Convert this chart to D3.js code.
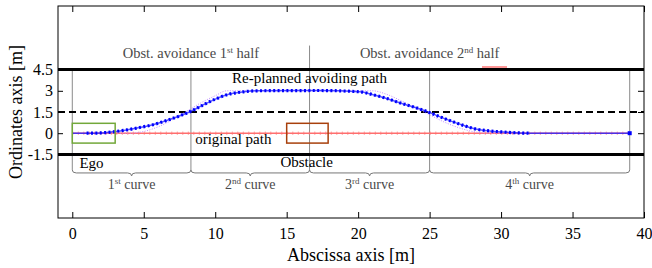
<!DOCTYPE html>
<html>
<head>
<meta charset="utf-8">
<script src="https://cdn.jsdelivr.net/npm/d3@7"></script>
<style>
  body { margin: 0; background: #fff; }
  svg, svg text { font-family: "Liberation Serif", "Times New Roman", "DejaVu Serif", serif !important; }
</style>
</head>
<body>
<div id="chart"></div>
<script>
// axis ticks
var xTicks = [0, 5, 10, 15, 20, 25, 30, 35, 40];
var yTicks = [-1.5, 0, 1.5, 3, 4.5];

// re-planned avoiding path
var pathX = [0, 1, 2, 2.85, 3.8, 4.7, 5.65, 6.6, 7.5, 8.3, 9.15, 10.1, 11, 12, 12.9, 17.3, 20.1, 21.05, 22, 22.9, 23.9, 24.9, 25.7, 26.6, 27.4, 28.3, 29.2, 30.2, 31, 32, 39];
var pathY = [0, 0, 0.02, 0.1, 0.23, 0.4, 0.6, 0.9, 1.22, 1.55, 2.0, 2.45, 2.77, 2.93, 3.0, 3.02, 2.93, 2.72, 2.46, 2.15, 1.85, 1.5, 1.17, 0.82, 0.54, 0.28, 0.16, 0.08, 0.03, 0, 0];

// faint reference trajectory (dotted violet)
var refX = [0, 4, 5, 6, 7, 8, 9, 10, 10.8, 21, 22, 23, 24, 25, 26, 27, 28, 29, 39];
var refY = [0, 0, 0.12, 0.45, 0.95, 1.55, 2.15, 2.65, 3.0, 3.0, 2.75, 2.3, 1.8, 1.3, 0.8, 0.4, 0.12, 0, 0];

// original path
var origX = [0, 39];
var origY = [0, 0];

// lane bounds
var laneBounds = [4.5, -1.5];
var laneCenter = 1.5;

// section dividers and their top ends
var sectionX = [0, 8.3, 16.6, 25, 39];
var sectionTop = [4.5, 4.5, 6.2, 4.5, 4.5];
var sectionBottom = -2.6;
var curveNum = ["1", "2", "3", "4"];
var curveSup = ["st", "nd", "rd", "th"];

// vehicles
var egoBox = [0, 3, -0.7, 0.7];
var obstacleBox = [15, 17.9, -0.7, 0.7];

var FONT = "'Liberation Serif', 'Times New Roman', 'DejaVu Serif', serif";
var W = 652, H = 268;
var margin = {left: 58, right: 8, top: 6, bottom: 50};

var svg = d3.select("#chart").append("svg")
    .attr("width", W)
    .attr("height", H)
    .attr("font-family", FONT);

var x = d3.scaleLinear().domain([-1, 40]).range([margin.left, W - margin.right]);
var y = d3.scaleLinear().domain([-6, 9]).range([H - margin.bottom, margin.top]);

var x0 = x.range()[0], x1 = x.range()[1], y0 = y.range()[0], y1 = y.range()[1];

// section divider lines
sectionX.forEach(function (s, i) {
  svg.append("line")
    .attr("x1", x(s)).attr("x2", x(s))
    .attr("y1", y(sectionTop[i])).attr("y2", y(sectionBottom))
    .attr("stroke", "#8a8a8a").attr("stroke-width", 1);
});

// braces under the lane
var by = y(sectionBottom);
for (var i = 0; i < sectionX.length - 1; i++) {
  var a = x(sectionX[i]), b = x(sectionX[i + 1]), m = (a + b) / 2, r = 4;
  var d = "M" + a + "," + by +
    " Q" + a + "," + (by + 3) + " " + (a + r) + "," + (by + 3) +
    " L" + (m - r) + "," + (by + 3) +
    " Q" + m + "," + (by + 3) + " " + m + "," + (by + 6) +
    " Q" + m + "," + (by + 3) + " " + (m + r) + "," + (by + 3) +
    " L" + (b - r) + "," + (by + 3) +
    " Q" + b + "," + (by + 3) + " " + b + "," + by;
  svg.append("path").attr("d", d).attr("fill", "none")
    .attr("stroke", "#777").attr("stroke-width", 1);

  var t = svg.append("text")
    .attr("x", m).attr("y", 189)
    .attr("text-anchor", "middle")
    .attr("fill", "#4a4a4a")
    .style("font-family", FONT)
    .style("font-size", "14px");
  t.append("tspan").text(curveNum[i]);
  t.append("tspan").text(curveSup[i]).attr("dy", -5).style("font-size", "9px");
  t.append("tspan").text(" curve").attr("dy", 5);
}

// lane lines
laneBounds.forEach(function (v) {
  svg.append("line")
    .attr("x1", x0).attr("x2", x1)
    .attr("y1", y(v)).attr("y2", y(v))
    .attr("stroke", "#000").attr("stroke-width", 3);
});
svg.append("line")
  .attr("x1", x0).attr("x2", x1)
  .attr("y1", y(laneCenter)).attr("y2", y(laneCenter))
  .attr("stroke", "#000").attr("stroke-width", 2)
  .attr("stroke-dasharray", "7,4");

var line = d3.line().x(d => x(d[0])).y(d => y(d[1]));
var smooth = d3.line().x(d => x(d[0])).y(d => y(d[1])).curve(d3.curveMonotoneX);

// original path with small tick markers
var orig = origX.map((v, i) => [v, origY[i]]);
svg.append("path").datum(orig).attr("d", line)
  .attr("fill", "none").attr("stroke", "#ff6f6f").attr("stroke-width", 1.5);
svg.append("path").datum(orig).attr("d", line)
  .attr("fill", "none").attr("stroke", "#ff6f6f").attr("stroke-width", 3.5)
  .attr("stroke-dasharray", "1,4.5").attr("opacity", 0.6);

// reference trajectory
var ref = refX.map((v, i) => [v, refY[i]]);
svg.append("path").datum(ref).attr("d", smooth)
  .attr("fill", "none").attr("stroke", "#c48cff").attr("stroke-width", 1)
  .attr("stroke-dasharray", "1,1.5");

// avoiding path
var avoid = pathX.map((v, i) => [v, pathY[i]]);
svg.append("path").datum(avoid).attr("d", smooth)
  .attr("fill", "none").attr("stroke", "#1a1aff").attr("stroke-width", 1.5)
  .attr("opacity", 0.75);
var marked = avoid.filter(p => p[0] >= 1 && p[0] <= 32);
svg.append("path").datum(marked).attr("d", smooth)
  .attr("fill", "none").attr("stroke", "#0000ff").attr("stroke-width", 3.2)
  .attr("stroke-dasharray", "2,2.4");
var last = avoid[avoid.length - 1];
svg.append("rect")
  .attr("x", x(last[0]) - 2).attr("y", y(last[1]) - 2)
  .attr("width", 4).attr("height", 4).attr("fill", "#0000ff");

// ego and obstacle boxes
svg.append("rect")
  .attr("x", x(egoBox[0])).attr("y", y(egoBox[3]))
  .attr("width", x(egoBox[1]) - x(egoBox[0]))
  .attr("height", y(egoBox[2]) - y(egoBox[3]))
  .attr("fill", "none").attr("stroke", "#72a83a").attr("stroke-width", 1.5);
svg.append("rect")
  .attr("x", x(obstacleBox[0])).attr("y", y(obstacleBox[3]))
  .attr("width", x(obstacleBox[1]) - x(obstacleBox[0]))
  .attr("height", y(obstacleBox[2]) - y(obstacleBox[3]))
  .attr("fill", "none").attr("stroke", "#a8400c").attr("stroke-width", 1.5);

// frame and axes
svg.append("rect")
  .attr("x", x0).attr("y", y1)
  .attr("width", x1 - x0).attr("height", y0 - y1)
  .attr("fill", "none").attr("stroke", "#000").attr("stroke-width", 1);

function styleAxis(g) {
  g.attr("font-family", FONT).attr("font-size", 16);
  g.select(".domain").remove();
  g.selectAll(".tick line").attr("stroke", "#000");
  g.selectAll(".tick text")
    .style("font-family", FONT)
    .style("font-size", "16px").attr("fill", "#000");
}

svg.append("g").attr("transform", "translate(0," + y0 + ")")
  .call(d3.axisBottom(x).tickValues(xTicks).tickSize(-6).tickPadding(10).tickFormat(d3.format("d")))
  .call(styleAxis);
svg.append("g").attr("transform", "translate(0," + y1 + ")")
  .call(d3.axisTop(x).tickValues(xTicks).tickSize(-6).tickFormat(""))
  .call(styleAxis);
svg.append("g").attr("transform", "translate(" + x0 + ",0)")
  .call(d3.axisLeft(y).tickValues(yTicks).tickSize(-5).tickPadding(5).tickFormat(d => d))
  .call(styleAxis);
svg.append("g").attr("transform", "translate(" + x1 + ",0)")
  .call(d3.axisRight(y).tickValues(yTicks).tickSize(-6).tickFormat(""))
  .call(styleAxis);

// axis titles
svg.append("text")
  .attr("x", (x0 + x1) / 2).attr("y", 261)
  .attr("text-anchor", "middle")
  .style("font-family", FONT)
  .style("font-size", "18px")
  .text("Abscissa axis [m]");
svg.append("text")
  .attr("transform", "translate(22," + ((y0 + y1) / 2) + ") rotate(-90)")
  .attr("text-anchor", "middle")
  .style("font-family", FONT)
  .style("font-size", "18px")
  .text("Ordinates axis [m]");

// annotations
function halfLabel(cx, num, sup) {
  var t = svg.append("text")
    .attr("x", cx).attr("y", 58)
    .attr("text-anchor", "middle")
    .attr("fill", "#4a4a4a")
    .style("font-family", FONT)
    .style("font-size", "14.5px");
  t.append("tspan").text("Obst. avoidance " + num);
  t.append("tspan").text(sup).attr("dy", -5).style("font-size", "9px");
  t.append("tspan").text(" half").attr("dy", 5);
}
halfLabel(x(8.3), "1", "st");
halfLabel(x(25), "2", "nd");
// red spell-check squiggle under "half"
svg.append("line")
  .attr("x1", 482).attr("x2", 507).attr("y1", 67).attr("y2", 67)
  .attr("stroke", "#ff3030").attr("stroke-width", 1);

function note(xv, yPx, txt, anchor) {
  svg.append("text")
    .attr("x", x(xv)).attr("y", yPx)
    .attr("text-anchor", anchor)
    .style("font-family", FONT)
    .style("font-size", "15px")
    .text(txt);
}
note(16.6, 83, "Re-planned avoiding path", "middle");
note(8.6, 144, "original path", "start");
note(0.5, 168, "Ego", "start");
note(16.4, 167, "Obstacle", "middle");
</script>
</body>
</html>
